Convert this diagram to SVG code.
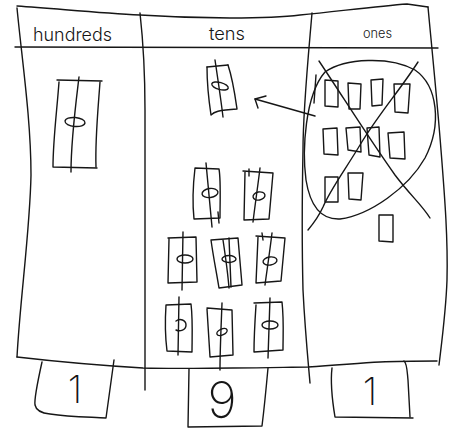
<svg xmlns="http://www.w3.org/2000/svg" width="450" height="430" viewBox="0 0 450 430">
<style>
.s{fill:none;stroke:#161616;stroke-width:1.4;stroke-linecap:round;stroke-linejoin:round}
.h{font-family:Inter,"Liberation Sans",sans-serif;font-weight:300;fill:#161616}
.d{font-family:Inter,"Liberation Sans",sans-serif;font-weight:200;fill:#161616}
</style>
<rect width="450" height="430" fill="#fff"/>
<g id="chart" class="s">
<path d="M17,6 C60,9 100,13 140,15 C170,17 200,18 230,18 C260,18 285,17 300,15 C340,11 380,6 407,4 L428,7"/>
<path d="M17,8 C22,60 31,120 31,175 C30,230 20,300 17,357"/>
<path d="M15,47 L438,48"/>
<path d="M140,13 C143,40 145,70 145,110 L145,390"/>
<path d="M312,13 C308,60 303,110 303,150 C302,200 302,250 303,290 C305,330 308,360 310,383"/>
<path d="M316,75 L314,103"/>
<path d="M428,7 C432,50 438,110 441,150 C445,200 448,240 447,280 C446,310 442,340 439,365"/>
<path d="M17,357 C60,362 110,366 143,368 C180,369 210,368 233,368 C270,368 290,367 308,367 C340,365 360,363 380,362 C400,361 420,361 437,361"/>
</g>
<g id="header-hundreds"><text class="h" x="33" y="41" font-size="18" textLength="79" lengthAdjust="spacingAndGlyphs">hundreds</text></g>
<g id="header-tens"><text class="h" x="209" y="40" font-size="18" textLength="36" lengthAdjust="spacingAndGlyphs">tens</text></g>
<g id="header-ones"><text class="h" x="363" y="38" font-size="13" textLength="29" lengthAdjust="spacingAndGlyphs">ones</text></g>
<g id="hundred-flat" class="s">
<path d="M57,80 L102,81"/>
<path d="M59,82 C57,110 53,140 53,167 L97,168"/>
<path d="M100,82 C98,110 95,140 96,167"/>
<path d="M79,77 C75,110 71,140 71,172"/>
<ellipse cx="75" cy="122" rx="10" ry="4.5" transform="rotate(5 75 122)"/>
</g>
<g id="ten-moved" class="s">
<path d="M207,67 L228,65"/>
<path d="M207,67 C207,80 208,95 211,115 C214,112 218,110 237,109 C235,95 233,80 228,65"/>
<path d="M215,60 C218,80 221,100 223,117"/>
<ellipse cx="220" cy="86" rx="8.5" ry="3.5" transform="rotate(15 220 86)"/>
</g>
<g id="ten-a" class="s">
<path d="M195,168 L219,169 C221,180 220,200 220,218 L194,219 C192,200 193,185 195,168 Z"/>
<path d="M206,163 C208,185 210,205 212,227"/>
<path d="M218,212 L219,223"/>
<ellipse cx="210" cy="193" rx="8" ry="4.5" transform="rotate(-8 210 193)"/>
</g>
<g id="ten-b" class="s">
<path d="M243,171 L273,173 L269,219 L244,220 L245,172"/>
<path d="M260,168 C258,185 255,205 253,222"/>
<path d="M249,169 L249,176"/>
<ellipse cx="259" cy="196" rx="6" ry="4" transform="rotate(-10 259 196)"/>
</g>
<g id="ten-c" class="s">
<path d="M168,238 L196,237 L197,282 L168,283 L169,239"/>
<path d="M183,232 L182,290"/>
<ellipse cx="185" cy="259" rx="8" ry="4"/>
</g>
<g id="ten-d" class="s">
<path d="M211,240 L238,238 L242,285 L219,288 C216,270 213,255 211,240 Z"/>
<path d="M223,240 C226,260 228,275 229,288"/>
<path d="M229,238 L231,287"/>
<ellipse cx="229" cy="259" rx="7" ry="3.5"/>
</g>
<g id="ten-e" class="s">
<path d="M256,236 L285,238 L281,281 L256,283 L258,237"/>
<path d="M272,233 C270,250 267,270 265,285"/>
<path d="M262,233 L263,240"/>
<ellipse cx="270" cy="261" rx="7" ry="4" transform="rotate(-10 270 261)"/>
</g>
<g id="ten-f" class="s">
<path d="M166,305 L191,304 C193,320 192,340 192,352 L167,351 C165,335 165,320 166,305 Z"/>
<path d="M179,297 L178,355"/>
<path d="M176,321 C180,318 186,320 186,325 C186,330 180,332 176,330"/>
</g>
<g id="ten-g" class="s">
<path d="M207,308 L232,310 L233,355 L210,357 L207,309"/>
<path d="M222,303 C221,330 220,350 220,370"/>
<ellipse cx="222" cy="332" rx="5.5" ry="3" transform="rotate(-25 222 332)"/>
</g>
<g id="ten-h" class="s">
<path d="M254,303 L282,302 C284,320 283,335 283,350 L254,352 C254,335 255,320 256,305"/>
<path d="M270,298 L268,358"/>
<ellipse cx="270" cy="325" rx="8" ry="4"/>
</g>
<g id="ones-loose" class="s">
<path d="M325,80 L338,81 L338,107 L325,106 Z"/>
<path d="M348,83 L361,84 L360,109 L349,109 Z"/>
<path d="M371,80 L383,79 L382,105 L372,106 Z"/>
<path d="M394,84 L410,84 L408,113 L395,112 Z"/>
<path d="M323,129 L337,128 L338,155 L324,154 Z"/>
<path d="M346,128 L360,127 L361,152 L348,150 Z"/>
<path d="M367,128 L379,127 L380,157 L369,155 Z"/>
<path d="M388,133 L404,132 L405,159 L390,158 Z"/>
<path d="M325,177 L338,177 L338,202 L325,202 Z"/>
<path d="M348,173 L363,173 L361,200 L349,199 Z"/>
<path d="M379,215 L393,215 L393,242 L379,241 Z"/>
</g>
<g id="ones-traded" class="s">
<path d="M325,72 C345,58 390,56 415,70 C438,86 442,125 425,158 C408,188 370,215 340,219 C320,220 310,205 306,180 C302,150 305,95 325,72 Z"/>
<path d="M319,61 C345,100 370,140 395,175 C410,195 422,205 430,218"/>
<path d="M418,62 C400,90 378,115 360,145 C345,170 330,190 323,207 C318,218 313,224 308,230"/>
</g>
<g id="box-hundreds" class="s">
<path d="M42,362 C38,380 34,398 35,405 C36,410 40,413 50,414 C70,417 90,417 106,418 L114,360"/>
<text class="d" x="75" y="403" font-size="38" text-anchor="middle" stroke="none">1</text>
</g>
<g id="box-tens" class="s">
<path d="M189,369 L188,427 L262,426 C264,410 266,390 268,368"/>
<text class="d" x="222" y="418" font-size="50" text-anchor="middle" stroke="none">9</text>
</g>
<g id="box-ones" class="s">
<path d="M332,368 C330,385 333,405 335,417 L413,418"/>
<path d="M404,361 C407,363 407,370 408,380 L410,417"/>
<text class="d" x="370" y="405" font-size="38" text-anchor="middle" stroke="none">1</text>
</g>
<g id="connectors" class="s">
<path d="M315,116 L255,99"/>
<path d="M266,96 L255,99 L258,108"/>
</g>
</svg>
